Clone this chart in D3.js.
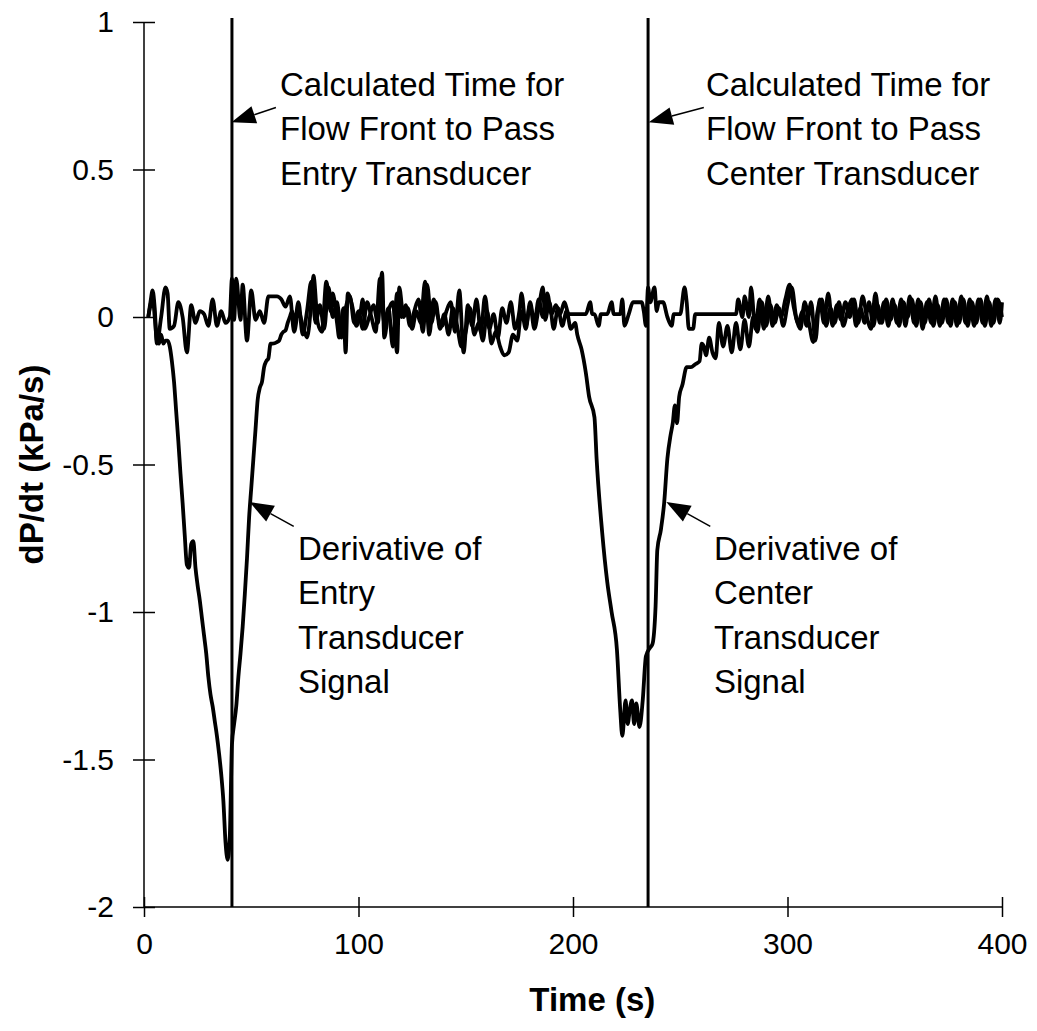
<html>
<head>
<script src="https://d3js.org/d3.v7.min.js"></script>
<style>
  body { margin: 0; background: #fff; }
  text { font-family: "Liberation Sans", Arial, sans-serif; fill: #000; }
</style>
</head>
<body>
<script>
// ---- data ----
let entryTime = [2,3,4,5,6,7,8,9,10,11,12,13,14,15,16,17,18,19,20,21,22,23,24,25,26,27,28,29,30,31,32,33,34,35,36,37,38,39,40,41,42,43,44,45,46,47,48,49,50,51,52,53,54,55,56,57,58,59,60,62,63,64,65,66,67,68,69,70,
  72,74,76,78,80,82,84,86,88,90,92,94,96,98,100,102,104,106,108,110,112,114,116,118,120,122,124,126,128,130,132,134,136,138,140,142,144,146,148,150,152,154,156,158,160,162,164,166,168,170,172,174,176,178,180,182,184,186,188,190,192,194,196,198,
  200,202,204,206,208,209,210,212,213,216,218,219,222,223,224,226,228,230,232,233,234,235,236,238,239,240,242,244,246,247,250,252,253,254,256,257,260,265,270,275,
  276,277,279,280,282,283,285,287,289,291,293,295,297,299,301,303,305,307,309,311,313,315,317,319,321,323,325,327,329,331,333,335,337,339,341,343,345,347,349,351,353,355,357,359,361,363,365,367,369,371,373,375,377,379,381,383,385,387,389,391,393,395,397,399,400];
let entryValue = [0,0.04,0.07,0,-0.08,-0.09,-0.06,-0.09,-0.08,-0.08,-0.1,-0.15,-0.22,-0.32,-0.42,-0.53,-0.63,-0.74,-0.84,-0.85,-0.77,-0.76,-0.85,-0.91,-0.96,-1.02,-1.08,-1.14,-1.22,-1.28,-1.32,-1.37,-1.42,-1.48,-1.55,-1.64,-1.78,-1.84,-1.76,-1.45,-1.38,-1.32,-1.22,-1.14,-1.05,-0.94,-0.82,-0.68,-0.58,-0.48,-0.38,-0.28,-0.24,-0.22,-0.17,-0.15,-0.14,-0.09,-0.09,-0.085,-0.08,-0.06,-0.05,-0.045,-0.02,0,0.02,-0.03,
  0.05,-0.06,0.02,0.12,-0.02,0.04,-0.04,0.1,0,0.05,-0.07,0.03,0.07,-0.02,0.02,-0.04,0.05,0,-0.05,0.13,-0.02,0.03,-0.1,0.08,0,0.04,-0.03,0.02,0.06,-0.05,0.11,-0.02,0.05,-0.04,0.01,-0.06,0.03,-0.03,-0.1,-0.05,0.03,-0.06,-0.02,-0.08,0.02,-0.09,-0.05,-0.1,-0.13,-0.12,-0.06,-0.08,0.02,-0.04,0.05,-0.02,0.06,0,0.08,0.01,0.04,0.01,0.05,0.01,
  0.01,0.01,0.01,0.01,0.05,0.01,0.01,-0.03,0.01,0.01,0.05,0.01,0.01,0.06,-0.03,0.01,0.05,0.05,0.05,0.02,-0.03,0.1,0.05,0.1,0.02,0.05,0.05,0,-0.03,0.01,0.01,0.1,0.05,-0.04,-0.04,0.01,0.01,0.01,0.01,0.01,
  0.01,0.06,0,0.07,0,0.1,-0.04,0.06,-0.04,0.07,-0.03,0.04,0,0.06,0.11,0.03,-0.02,0.02,-0.03,0.05,-0.08,0.06,-0.02,0.08,-0.03,0.04,-0.01,0.05,0,0.06,-0.02,0.07,0,-0.04,0.08,-0.02,0.05,-0.03,0.06,-0.02,0.06,-0.03,0.07,-0.02,0.06,-0.04,0.05,-0.02,0.07,-0.03,0.06,-0.02,0.06,-0.03,0.07,-0.02,0.06,-0.03,0.06,-0.02,0.07,-0.03,0.06,-0.02,0.05];

let centerTime = [2,3,4,5,6,8,10,11,12,14,16,18,20,22,24,26,28,30,32,34,36,38,40,41,42,43,45,46,48,50,52,54,56,58,60,62,64,66,68,70,
  72,74,76,78,79,81,83,85,87,88,90,91,93,94,95,97,99,101,102,103,105,107,109,111,112,114,116,118,119,121,123,125,127,129,131,133,135,137,139,141,143,145,147,149,151,153,155,157,159,161,163,165,167,169,171,173,175,176,178,180,182,184,186,187,189,191,193,195,197,199,
  201,202,204,206,207.5,210,211,213.6,216,218,220.5,222,223,224.5,225.5,226.5,227.5,228.5,229.5,231,232.5,234,236,237,238.5,239.3,241,242.5,244,245.5,246.5,247.5,248.5,249.5,251,253,255,257,259,260,261,262,263.5,265,266.5,268,270,272,274,276,278,280,282,
  284,286,288,290,292,294,296,298,300,302,304,306,308,310,312,314,316,318,320,322,324,326,328,330,332,334,336,338,340,342,344,346,348,350,352,354,356,358,360,362,364,366,368,370,372,374,376,378,380,382,384,386,388,390,392,394,396,398,400];
let centerValue = [0,0.05,0.09,0.03,-0.09,0,0.1,0.08,-0.04,-0.03,0.05,0,-0.12,0.04,-0.02,0.02,0.01,-0.03,0.06,-0.03,0.02,-0.02,0,0.13,-0.01,0.13,-0.01,0.11,-0.08,0.09,-0.01,0.02,-0.02,0.07,0.07,0.07,0.06,0.035,0.07,-0.05,
  0.02,-0.03,-0.07,0.05,0.14,-0.02,-0.05,0.12,0.02,0.08,-0.02,-0.07,0.03,-0.12,0.08,0.04,-0.03,0.02,0.06,-0.04,0,0.04,-0.02,0.15,-0.07,0.02,0.05,-0.12,0.1,0,0.03,-0.04,0.02,-0.02,0.12,-0.06,0.06,0,-0.03,0.02,0.05,-0.05,0.09,-0.12,0.04,-0.03,0.06,-0.05,0.07,-0.04,0.01,-0.07,0.03,-0.02,0.05,-0.04,0.02,0.08,-0.03,0.04,-0.04,0.03,0.1,-0.01,0.05,-0.04,0.03,-0.03,0.02,-0.04,
  -0.02,-0.06,-0.11,-0.19,-0.27,-0.34,-0.48,-0.73,-0.9,-1,-1.13,-1.33,-1.42,-1.3,-1.38,-1.33,-1.3,-1.38,-1.31,-1.39,-1.3,-1.15,-1.12,-1.11,-0.98,-0.79,-0.72,-0.63,-0.48,-0.4,-0.36,-0.3,-0.36,-0.27,-0.23,-0.17,-0.17,-0.16,-0.15,-0.09,-0.1,-0.13,-0.07,-0.12,-0.14,-0.02,-0.1,-0.03,-0.12,-0.02,-0.11,-0.01,-0.1,
  0,-0.05,0.05,-0.03,0.04,-0.02,0.03,-0.03,0.04,0.1,0,-0.04,0.05,-0.02,-0.085,0.02,0.06,-0.03,0.03,-0.02,0.05,-0.03,0.02,0.06,-0.03,0.03,-0.02,0.05,-0.03,0.04,-0.02,0.06,-0.01,0.04,-0.03,0.05,0,0.06,-0.03,0.05,-0.02,0.06,-0.03,0.04,-0.02,0.06,-0.03,0.05,-0.02,0.06,-0.03,0.05,-0.02,0.06,-0.03,0.05,-0.02,0.06,0];

// calculated flow-front times (s)
let frontTimes = [41, 235];

let xTicks = [0, 100, 200, 300, 400];
let yTicks = [1, 0.5, 0, -0.5, -1, -1.5, -2];

// annotations: text lines, anchor in data units, arrow tail -> tip in data units
let notes = [
  {lines: ["Calculated Time for", "Flow Front to Pass", "Entry Transducer"], t: 63.4, v: 0.79, tail: [61.5, 0.71], tip: [40.8, 0.66]},
  {lines: ["Calculated Time for", "Flow Front to Pass", "Center Transducer"], t: 262, v: 0.79, tail: [261, 0.71], tip: [235.3, 0.66]},
  {lines: ["Derivative of", "Entry", "Transducer", "Signal"], t: 71.8, v: -0.783, tail: [69.8, -0.71], tip: [49.2, -0.627]},
  {lines: ["Derivative of", "Center", "Transducer", "Signal"], t: 265.7, v: -0.783, tail: [264, -0.71], tip: [243.5, -0.627]}
];

// ---- chart ----
let width = 1037, height = 1031;
let svg = d3.select("body").append("svg")
    .attr("width", width)
    .attr("height", height);

let x = d3.scaleLinear().domain([0, 400]).range([144, 1002]);
let y = d3.scaleLinear().domain([-2, 1]).range([907, 22]);

// x axis
let xAxis = svg.append("g")
    .attr("transform", "translate(0," + y(-2) + ")")
    .call(d3.axisBottom(x).tickValues(xTicks).tickSize(0).tickPadding(26).tickFormat(d => String(d)));
xAxis.select(".domain").attr("stroke", "#000").attr("stroke-width", 1.5).attr("d", "M" + x(0) + ",0H" + x(400));
xAxis.selectAll(".tick line").attr("y1", -10).attr("y2", 10).attr("stroke", "#000").attr("stroke-width", 1.5);
xAxis.selectAll(".tick text").attr("font-size", 30).attr("font-family", "Liberation Sans, Arial, sans-serif");

// y axis
let yAxis = svg.append("g")
    .attr("transform", "translate(" + x(0) + ",0)")
    .call(d3.axisLeft(y).tickValues(yTicks).tickSize(0).tickPadding(30).tickFormat(d => String(d)));
yAxis.select(".domain").attr("stroke", "#000").attr("stroke-width", 1.5).attr("d", "M0," + y(1) + "V" + y(-2));
yAxis.selectAll(".tick line").attr("x1", -11).attr("x2", 11).attr("stroke", "#000").attr("stroke-width", 1.5);
yAxis.selectAll(".tick text").attr("font-size", 30).attr("font-family", "Liberation Sans, Arial, sans-serif");

// axis titles
svg.append("text")
    .attr("x", x(209))
    .attr("y", 1011)
    .attr("text-anchor", "middle")
    .attr("font-size", 33)
    .attr("font-weight", "bold")
    .text("Time (s)");

svg.append("text")
    .attr("transform", "translate(43," + y(-0.5) + ") rotate(-90)")
    .attr("text-anchor", "middle")
    .attr("font-size", 33)
    .attr("font-weight", "bold")
    .text("dP/dt (kPa/s)");

// flow-front lines
svg.selectAll(".front")
    .data(frontTimes)
    .enter().append("line")
    .attr("x1", d => x(d))
    .attr("x2", d => x(d))
    .attr("y1", y(1) - 4)
    .attr("y2", y(-2))
    .attr("stroke", "#000")
    .attr("stroke-width", 3);

// derivative signals
let line = d3.line()
    .x(d => x(d[0]))
    .y(d => y(d[1]))
    .curve(d3.curveMonotoneX);

let series = [d3.zip(entryTime, entryValue), d3.zip(centerTime, centerValue)];
series.forEach(s =>
  svg.append("path")
    .datum(s)
    .attr("d", line)
    .attr("fill", "none")
    .attr("stroke", "#000")
    .attr("stroke-width", 3.8)
    .attr("stroke-linejoin", "round")
);

// annotations
notes.forEach(n => {
  let txt = svg.append("text")
      .attr("x", x(n.t))
      .attr("y", y(n.v))
      .attr("font-size", 33);
  n.lines.forEach((l, i) =>
    txt.append("tspan")
      .attr("x", x(n.t))
      .attr("y", y(n.v) + i * 44.5)
      .attr("dy", "0.36em")
      .text(l)
  );

  let x0 = x(n.tail[0]), y0 = y(n.tail[1]);
  let x1 = x(n.tip[0]), y1 = y(n.tip[1]);
  let ang = Math.atan2(y1 - y0, x1 - x0);
  let len = 24, half = 9;
  let bx = x1 - len * Math.cos(ang), by = y1 - len * Math.sin(ang);
  svg.append("line")
    .attr("x1", x0).attr("y1", y0)
    .attr("x2", bx).attr("y2", by)
    .attr("stroke", "#000").attr("stroke-width", 1.5);
  svg.append("path")
    .attr("d", "M" + x1 + "," + y1 +
               "L" + (bx + half * Math.sin(ang)) + "," + (by - half * Math.cos(ang)) +
               "L" + (bx - half * Math.sin(ang)) + "," + (by + half * Math.cos(ang)) + "Z")
    .attr("fill", "#000");
});
</script>
</body>
</html>
